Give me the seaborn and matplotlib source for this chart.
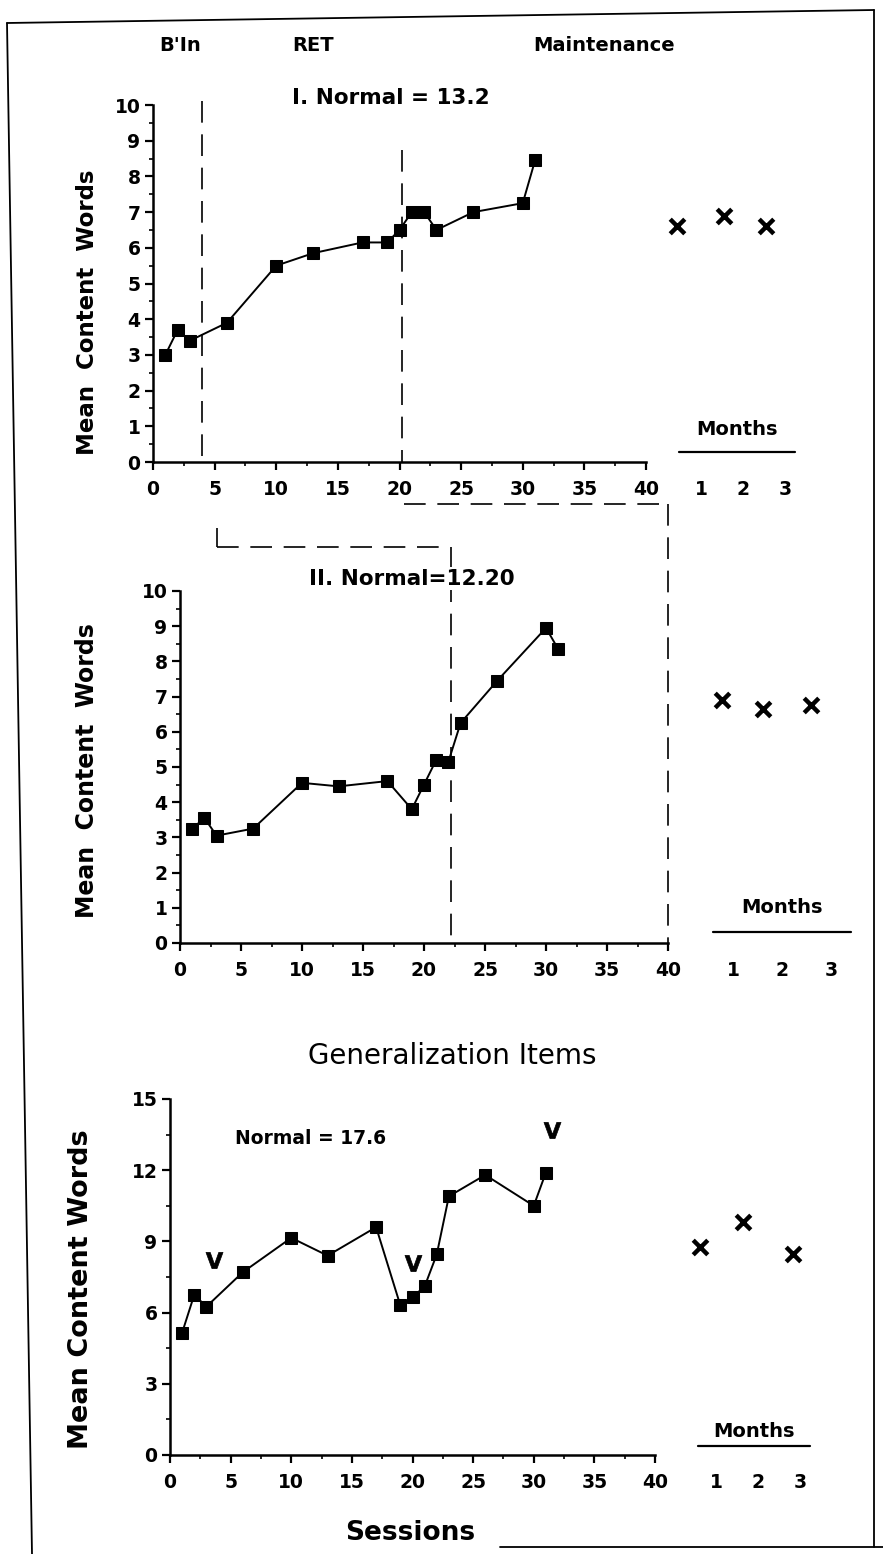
import matplotlib
matplotlib.use("Agg")
import matplotlib.pyplot as plt
from matplotlib.lines import Line2D
from matplotlib.ticker import MultipleLocator
import seaborn as sns

# sessions shared by all three probes
sessions = [1, 2, 3, 6, 10, 13, 17, 19, 20, 21, 22, 23, 26, 30, 31]
words_list1 = [3.0, 3.7, 3.4, 3.9, 5.5, 5.85, 6.15, 6.15, 6.5, 7.0, 7.0, 6.5, 7.0, 7.25, 8.45]
words_list2 = [3.25, 3.55, 3.05, 3.25, 4.55, 4.45, 4.6, 3.8, 4.5, 5.2, 5.15, 6.25, 7.45, 8.95, 8.35]
words_general = [5.15, 6.75, 6.25, 7.7, 9.15, 8.4, 9.6, 6.3, 6.65, 7.1, 8.45, 10.9, 11.8, 10.5, 11.9]

# maintenance follow-up (months)
month_ticks = [1, 2, 3]
maint_pos1 = [0.43, 1.55, 2.55]
maint_list1 = [6.6, 6.9, 6.6]
maint_pos2 = [0.76, 1.6, 2.6]
maint_list2 = [6.9, 6.65, 6.75]
maint_pos3 = [0.6, 1.64, 2.82]
maint_general = [8.75, 9.8, 8.45]

# arrowheads in the generalization panel
probe_x = [3.6, 20.0, 31.5]
probe_y = [8.2, 8.1, 13.7]

phase_labels = ["B'In", "RET", "Maintenance"]
phase_label_x = [2.2, 13.0, 36.6]

sns.set_theme(style="ticks")
plt.rcParams['font.family'] = ['DejaVu Sans']
plt.rcParams['font.weight'] = 'bold'
plt.rcParams['text.color'] = 'black'
plt.rcParams['axes.labelcolor'] = 'black'
plt.rcParams['xtick.color'] = 'black'
plt.rcParams['ytick.color'] = 'black'

W, H = 883, 1554
fig = plt.figure(figsize=(W / 100, H / 100), dpi=100)


def px_axes(left, top, right, bottom):
    return fig.add_axes([left / W, 1 - bottom / H, (right - left) / W, (bottom - top) / H])


DASH = (0, (13, 7))
TICKFONT = 13.5


def style_main(ax, ymax, ystep):
    ax.set_xlim(0, 40)
    ax.set_ylim(0, ymax)
    ax.xaxis.set_major_locator(MultipleLocator(5))
    ax.xaxis.set_minor_locator(MultipleLocator(2.5))
    ax.yaxis.set_major_locator(MultipleLocator(ystep))
    ax.yaxis.set_minor_locator(MultipleLocator(ystep / 2))
    sns.despine(ax=ax)
    for s in ['left', 'bottom']:
        ax.spines[s].set_linewidth(1.8)
        ax.spines[s].set_color('black')
    ax.tick_params(which='major', length=6, width=1.6, color='black',
                   labelsize=TICKFONT, labelcolor='black')
    ax.tick_params(which='minor', length=3, width=1.2, color='black')
    ax.tick_params(axis='x', which='major', pad=7)
    ax.tick_params(axis='y', which='major', pad=3)
    for lab in ax.get_xticklabels() + ax.get_yticklabels():
        lab.set_fontweight('heavy')
    ax.set_facecolor('white')


def style_months(ax, ymax, text_y, line_y, line_x0, line_x1):
    ax.set_xlim(0, 3.6)
    ax.set_ylim(0, ymax)
    ax.set_facecolor('none')
    for s in ax.spines.values():
        s.set_visible(False)
    ax.set_yticks([])
    ax.set_xticks(month_ticks)
    ax.set_xticklabels([str(m) for m in month_ticks], fontweight='heavy')
    ax.tick_params(axis='x', length=0, pad=13, labelsize=TICKFONT, labelcolor='black')
    ax.text(0.5 * (line_x0 + line_x1), text_y, "Months", transform=ax.transAxes,
            ha='center', va='center', fontsize=14, fontweight='heavy')
    ax.plot([line_x0, line_x1], [line_y, line_y], transform=ax.transAxes,
            color='black', lw=1.6, clip_on=False)


def draw_series(ax, y):
    sns.lineplot(x=sessions, y=y, ax=ax, color='black', lw=1.4, marker='s',
                 markersize=9, markeredgecolor='black', markerfacecolor='black')


def draw_maint(ax, pos, y):
    sns.scatterplot(x=pos, y=y, ax=ax, marker='x', s=110, linewidth=3.2, color='black')


# ---- Panel I ----
ax1 = px_axes(153, 105, 646, 462)
draw_series(ax1, words_list1)
style_main(ax1, 10, 1)
ax1.set_ylabel("Mean  Content  Words", fontsize=16.5, fontweight='heavy')
ax1.yaxis.set_label_coords(-0.11, 0.42)
ax1.text(19.3, 10.2, "I. Normal = 13.2", ha='center', va='center', fontsize=15.5,
         fontweight='bold')
for lab, xl in zip(phase_labels, phase_label_x):
    ax1.text(xl, 1.167, lab, transform=ax1.get_xaxis_transform(), ha='center', va='center',
             fontsize=14, fontweight='heavy')
ax1.plot([4, 4], [10.1, 0], ls=DASH, color='black', lw=1.2, clip_on=False)
ax1.plot([20.2, 20.2], [8.75, 0], ls=DASH, color='black', lw=1.2, clip_on=False)

m1 = px_axes(659, 105, 810, 462)
draw_maint(m1, maint_pos1, maint_list1)
style_months(m1, 10, 0.092, 0.028, 0.13, 0.90)

# ---- Panel II ----
ax2 = px_axes(180, 591, 668, 943)
draw_series(ax2, words_list2)
style_main(ax2, 10, 1)
ax2.set_ylabel("Mean  Content  Words", fontsize=17, fontweight='heavy')
ax2.yaxis.set_label_coords(-0.165, 0.49)
ax2.text(19.0, 10.35, "II. Normal=12.20", ha='center', va='center', fontsize=15.5,
         fontweight='bold', bbox=dict(facecolor='white', edgecolor='none', pad=1))
# staircase of phase-change lines carried down from panel I
ax2.plot([3.0, 3.0], [11.8, 11.25], ls=DASH, color='black', lw=1.2, clip_on=False)
ax2.plot([3.0, 22.0], [11.25, 11.25], ls=DASH, color='black', lw=1.2, clip_on=False)
ax2.plot([22.2, 22.2], [11.25, 0], ls=DASH, color='black', lw=1.2, clip_on=False, zorder=1)
ax2.plot([18.4, 40], [12.46, 12.46], ls=DASH, color='black', lw=1.2, clip_on=False)
ax2.plot([40, 40], [12.46, 0], ls=DASH, color='black', lw=1.2, clip_on=False)

m2 = px_axes(685, 591, 860, 943)
draw_maint(m2, maint_pos2, maint_list2)
style_months(m2, 10, 0.10, 0.031, 0.16, 0.95)

# ---- Generalization ----
ax3 = px_axes(170, 1099, 655, 1455)
draw_series(ax3, words_general)
style_main(ax3, 15, 3)
sns.scatterplot(x=probe_x, y=probe_y, ax=ax3, marker=r'$\mathbf{V}$', s=150, color='black',
                linewidth=0.5, edgecolor='black')
ax3.set_ylabel("Mean Content Words", fontsize=19.5, fontweight='heavy')
ax3.yaxis.set_label_coords(-0.157, 0.466)
ax3.set_xlabel("Sessions", fontsize=19, fontweight='bold')
ax3.xaxis.set_label_coords(0.495, -0.183)
ax3.text(11.6, 13.35, "Normal = 17.6", ha='center', va='center', fontsize=13.5,
         fontweight='heavy')
ax3.text(23.3, 16.8, "Generalization Items", ha='center', va='center', fontsize=20,
         fontweight='normal')

m3 = px_axes(675, 1099, 825, 1455)
draw_maint(m3, maint_pos3, maint_general)
style_months(m3, 15, 0.065, 0.025, 0.15, 0.90)

# page frame from the scan
frame = [((7, 23), (874, 10)), ((7, 23), (32, 1554)), ((874, 10), (874, 1547)),
         ((500, 1547), (883, 1547))]
for (x0, y0), (x1, y1) in frame:
    fig.add_artist(Line2D([x0 / W, x1 / W], [1 - y0 / H, 1 - y1 / H],
                          transform=fig.transFigure, color='black', lw=1.3))

fig.savefig("out.png", dpi=100, facecolor='white')
